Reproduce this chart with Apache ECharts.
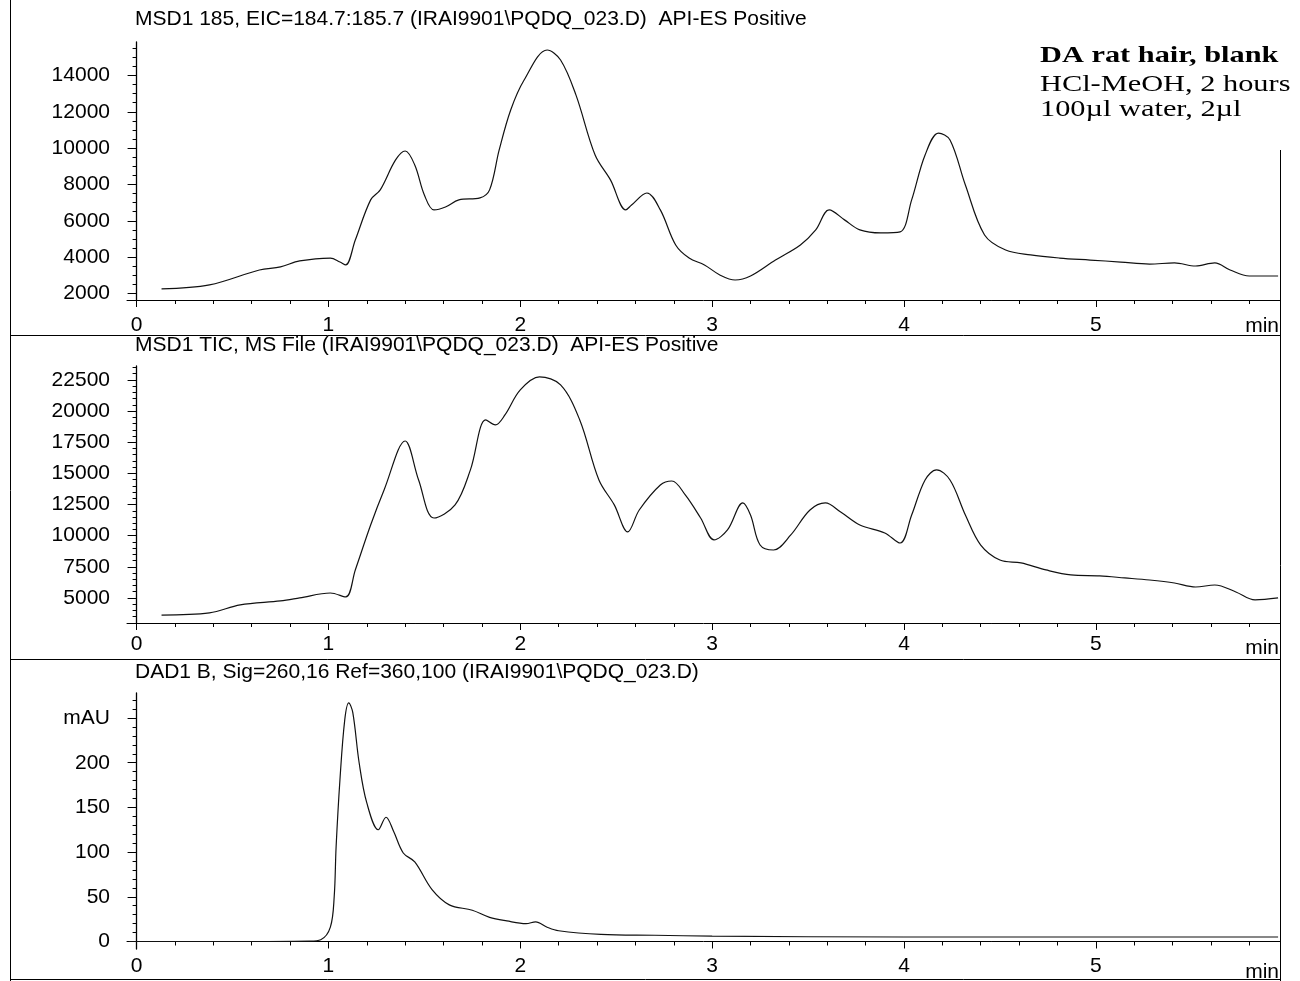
<!DOCTYPE html>
<html>
<head>
<meta charset="utf-8">
<script src="https://cdn.jsdelivr.net/npm/echarts@6/dist/echarts.min.js"></script>
<style>
  html, body { margin: 0; padding: 0; background: #fff; }
  #chart { width: 1300px; height: 981px; }
</style>
</head>
<body>
<div id="chart"></div>
<script>
// ---- Trace 1: MSD1 185, extracted ion chromatogram ----
const eicTime = [0.13, 0.38, 0.64, 0.75, 0.85, 1.01, 1.06, 1.09, 1.14, 1.22, 1.27, 1.35, 1.40, 1.45, 1.50, 1.55,
  1.61, 1.68, 1.79, 1.84, 1.89, 1.95, 2.02, 2.14, 2.21, 2.29, 2.39, 2.47, 2.55, 2.58, 2.66, 2.73, 2.81, 2.88,
  2.96, 3.04, 3.12, 3.20, 3.33, 3.46, 3.54, 3.61, 3.69, 3.77, 3.88, 3.98, 4.04, 4.11, 4.18, 4.24, 4.32, 4.42,
  4.53, 4.66, 4.81, 4.97, 5.13, 5.28, 5.41, 5.52, 5.62, 5.70, 5.80, 5.95];
const eicSignal = [2250, 2470, 3290, 3460, 3790, 3950, 3730, 3570, 4940, 7150, 7700, 9350, 9840, 9070, 7420, 6600,
  6760, 7150, 7260, 7700, 9900, 12100, 13750, 15400, 14850, 12930, 9620, 8250, 6600, 6870, 7530, 6600, 4670, 3950,
  3570, 3020, 2740, 2960, 3840, 4670, 5500, 6600, 6050, 5500, 5330, 5390, 7150, 9620, 10830, 10450, 7970, 5220,
  4390, 4120, 3950, 3840, 3730, 3620, 3680, 3510, 3680, 3290, 2960, 2960];

// ---- Trace 2: MSD1 total ion current ----
const ticTime = [0.13, 0.38, 0.54, 0.75, 0.85, 1.01, 1.09, 1.14, 1.22, 1.29, 1.40, 1.47, 1.55, 1.66, 1.74, 1.82,
  1.87, 1.92, 2.00, 2.10, 2.21, 2.31, 2.41, 2.49, 2.56, 2.62, 2.73, 2.79, 2.86, 2.94, 3.01, 3.08, 3.16, 3.20,
  3.25, 3.32, 3.41, 3.51, 3.59, 3.67, 3.77, 3.90, 3.98, 4.04, 4.11, 4.17, 4.24, 4.32, 4.40, 4.50, 4.61, 4.74,
  4.87, 5.02, 5.15, 5.28, 5.41, 5.52, 5.62, 5.73, 5.83, 5.95];
const ticSignal = [3630, 3800, 4440, 4760, 5000, 5400, 5080, 7250, 10860, 13670, 17600, 14470, 11420, 12470, 15280, 19290,
  18890, 19690, 21700, 22740, 22100, 19290, 14470, 12470, 10300, 12060, 14070, 14390, 13270, 11420, 9660, 10460, 12630, 11660,
  9250, 8850, 10060, 12060, 12630, 11900, 10860, 10220, 9410, 11660, 14470, 15280, 14470, 11660, 9250, 8050, 7810, 7250,
  6850, 6770, 6610, 6440, 6200, 5880, 6040, 5480, 4840, 5000];

// ---- Trace 3: DAD1 B, Sig=260,16 Ref=360,100 ----
const dadTime = [-0.04, 0.50, 0.90, 0.96, 1.01, 1.03, 1.04, 1.06, 1.085, 1.106, 1.127, 1.16, 1.20, 1.26, 1.30, 1.34,
  1.39, 1.45, 1.54, 1.63, 1.75, 1.84, 1.93, 2.03, 2.08, 2.14, 2.20, 2.42, 2.70, 3.00, 4.00, 5.00, 5.95];
const dadSignal = [0, 0, 0.5, 2, 16, 50, 106, 181, 248, 267, 256, 200, 155, 125, 139, 123,
  99, 89, 58, 41, 35, 27, 23, 20, 22, 16, 12, 8, 7, 6, 5, 5, 5];

// ---- Axis ticks ----
const timeTicks = [0, 1, 2, 3, 4, 5];
const eicTicks = [2000, 4000, 6000, 8000, 10000, 12000, 14000];
const ticTicks = [5000, 7500, 10000, 12500, 15000, 17500, 20000, 22500];
const dadTicks = [0, 50, 100, 150, 200, 250];

// ---- Panel headings ----
const panelTitles = [
  'MSD1 185, EIC=184.7:185.7 (IRAI9901\\PQDQ_023.D)  API-ES Positive',
  'MSD1 TIC, MS File (IRAI9901\\PQDQ_023.D)  API-ES Positive',
  'DAD1 B, Sig=260,16 Ref=360,100 (IRAI9901\\PQDQ_023.D)'
];
const timeUnit = 'min';
const sampleNotes = ['DA rat hair, blank', 'HCl-MeOH, 2 hours', '100\u00b5l water, 2\u00b5l'];

// minor tick positions between the labelled ticks
function minorValues(start, end, step, majorStep) {
  const out = [];
  for (let v = start; v <= end + 1e-9; v += step) {
    const r = Math.round(v * 1000) / 1000;
    if (Math.abs(r / majorStep - Math.round(r / majorStep)) > 1e-6) out.push(r);
  }
  return out;
}
const timeMinor = minorValues(0, 5.8, 0.2, 1);

const FONT = 'Liberation Sans, Arial, sans-serif';
const INK = '#000';
const T_MIN = -0.05, T_MAX = 5.96;

// panel geometry in pixels and signal range of each axis
const panels = [
  { top: 42,  height: 258, min: 1640, max: 15840, ticks: eicTicks, minorStep: 500,  majorStep: 2000, xMargin: 15, unitY: 326 },
  { top: 366, height: 257, min: 2990, max: 23620, ticks: ticTicks, minorStep: 500,  majorStep: 2500, xMargin: 11, unitY: 648 },
  { top: 693, height: 256, min: -8.4, max: 278,   ticks: dadTicks, minorStep: 10,   majorStep: 50,   xMargin: 7,  unitY: 972 }
];

const grid = [], xAxis = [], yAxis = [];
panels.forEach((p, i) => {
  grid.push({ left: 127, width: 1153, top: p.top, height: p.height, containLabel: false });
  // labelled time axis
  xAxis.push({
    type: 'value', gridIndex: i, min: T_MIN, max: T_MAX, position: 'bottom',
    axisLine: { show: true, lineStyle: { color: INK, width: 1 } },
    axisTick: { show: true, length: 7, customValues: timeTicks, lineStyle: { color: INK } },
    axisLabel: { show: true, customValues: timeTicks, margin: p.xMargin, fontFamily: FONT, fontSize: 21, color: INK },
    splitLine: { show: false }
  });
  // minor time ticks
  xAxis.push({
    type: 'value', gridIndex: i, min: T_MIN, max: T_MAX, position: 'bottom',
    axisLine: { show: false },
    axisTick: { show: true, length: 4, customValues: timeMinor, lineStyle: { color: INK } },
    axisLabel: { show: false, customValues: timeMinor },
    splitLine: { show: false }
  });
  // labelled signal axis
  yAxis.push({
    type: 'value', gridIndex: i, min: p.min, max: p.max, position: 'left',
    axisLine: { show: true, lineStyle: { color: INK, width: 1.3 } },
    axisTick: { show: true, length: 9, customValues: p.ticks, lineStyle: { color: INK } },
    axisLabel: {
      show: true, customValues: p.ticks, margin: 17, fontFamily: FONT, fontSize: 21, color: INK,
      formatter: v => (i === 2 && v === 250) ? 'mAU' : String(v)
    },
    splitLine: { show: false }
  });
  // minor signal ticks
  const yMinor = minorValues(Math.ceil(p.min / p.minorStep) * p.minorStep, p.max, p.minorStep, p.majorStep);
  yAxis.push({
    type: 'value', gridIndex: i, min: p.min, max: p.max, position: 'left',
    axisLine: { show: false },
    axisTick: { show: true, length: 4, customValues: yMinor, lineStyle: { color: INK } },
    axisLabel: { show: false, customValues: yMinor },
    splitLine: { show: false }
  });
});

function pairs(t, v) { return t.map((x, k) => [x, v[k]]); }
const traceStyle = { color: '#111', width: 1.2 };
const series = [
  { type: 'line', xAxisIndex: 0, yAxisIndex: 0, data: pairs(eicTime, eicSignal) },
  { type: 'line', xAxisIndex: 2, yAxisIndex: 2, data: pairs(ticTime, ticSignal) },
  { type: 'line', xAxisIndex: 4, yAxisIndex: 4, data: pairs(dadTime, dadSignal) }
].map(s => Object.assign(s, { smooth: 0.35, showSymbol: false, symbol: 'none', lineStyle: traceStyle, silent: true, animation: false }));

// frame lines of the printout
function hline(y, x1, x2) { return { type: 'line', shape: { x1, y1: y, x2, y2: y }, style: { stroke: INK, lineWidth: 1 }, silent: true }; }
function vline(x, y1, y2) { return { type: 'line', shape: { x1: x, y1, x2: x, y2 }, style: { stroke: INK, lineWidth: 1 }, silent: true }; }

const titleY = [19, 345, 672];
const graphic = [
  vline(10.5, 0, 981),
  vline(1280.5, 150, 981),
  hline(335.5, 10, 1281),
  hline(659.5, 10, 1281),
  hline(979.5, 10, 1281)
];
panelTitles.forEach((t, i) => graphic.push({
  type: 'text', x: 135, y: titleY[i], silent: true,
  style: { text: t, fontFamily: FONT, fontSize: 21, fill: INK, verticalAlign: 'middle', align: 'left' }
}));
// time unit at the right end of each time axis
panels.forEach(p => graphic.push({
  type: 'text', x: 1279, y: p.unitY, silent: true,
  style: { text: timeUnit, fontFamily: FONT, fontSize: 21, fill: INK, verticalAlign: 'middle', align: 'right' }
}));
const noteY = [56, 85, 110];
sampleNotes.forEach((t, i) => graphic.push({
  type: 'text', x: 1040, y: noteY[i], scaleX: 1.32, silent: true,
  style: { text: t, fontFamily: 'Liberation Serif, Times New Roman, serif', fontSize: 23,
    fontWeight: i === 0 ? 'bold' : 'normal', fill: INK, verticalAlign: 'middle', align: 'left' }
}));

const chart = echarts.init(document.getElementById('chart'), null, { renderer: 'canvas' });
chart.setOption({
  animation: false,
  backgroundColor: '#fff',
  grid, xAxis, yAxis, series, graphic
});
</script>
</body>
</html>
